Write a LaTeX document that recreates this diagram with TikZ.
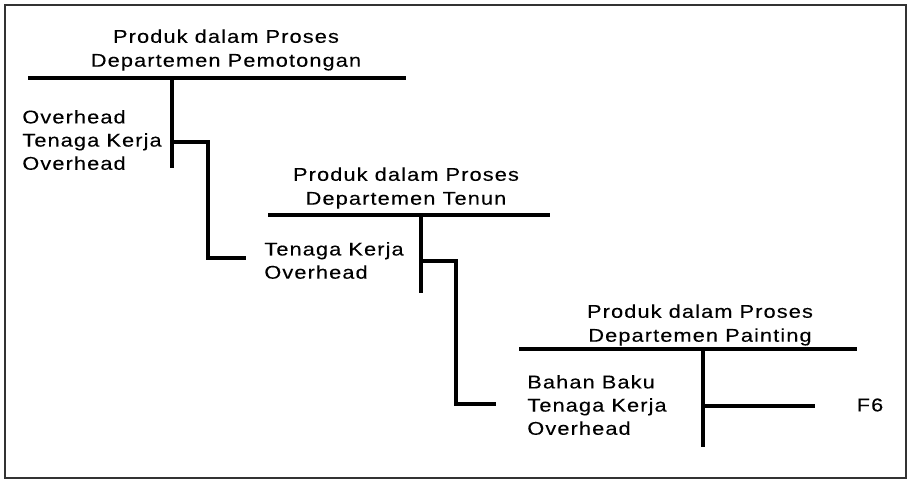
\documentclass[tikz,border=0pt]{standalone}
\usepackage{fontspec}
\setmainfont{Liberation Sans}[FakeStretch=1.18, LetterSpace=6, FakeBold=0.2]
\usetikzlibrary{positioning}

\begin{document}
\begin{tikzpicture}[
    x=0.02cm, y=-0.02cm,
    tline/.style={line width=2.6pt},
    frame/.style={draw=black!80, line width=1.2pt},
    title/.style={align=center, inner sep=0pt, font=\fontsize{10.5}{13.6}\selectfont},
    items/.style={align=left, inner sep=0pt, anchor=west, font=\fontsize{10.5}{13.2}\selectfont},
    every node/.style={inner sep=0pt}
]

% Frame
\useasboundingbox (0,0) rectangle (910,482);
\draw[frame] (5,5) rectangle (906,478);

% Departemen Pemotongan
\coordinate (a1l) at (28,78);
\coordinate (a1r) at (406,78);
\coordinate (a1t) at (172,78);
\coordinate (a1b) at (172,168);
\node[title] (t1) at (226,50) {Produk dalam Proses\\Departemen Pemotongan};
\node[items] (d1) at (22,140) {Overhead\\Tenaga Kerja\\Overhead};
\draw[tline] (a1l) -- (a1r);
\draw[tline] (a1t) -- (a1b);

% Departemen Tenun
\coordinate (a2l) at (268,215);
\coordinate (a2r) at (550,215);
\coordinate (a2t) at (421,215);
\coordinate (a2b) at (421,293);
\node[title] (t2) at (406,188) {Produk dalam Proses\\Departemen Tenun};
\node[items] (d2) at (264,260.5) {Tenaga Kerja\\Overhead};
\draw[tline] (a2l) -- (a2r);
\draw[tline] (a2t) -- (a2b);

% Departemen Painting
\coordinate (a3l) at (519,349);
\coordinate (a3r) at (857,349);
\coordinate (a3t) at (703,349);
\coordinate (a3b) at (703,447);
\node[title] (t3) at (700,325) {Produk dalam Proses\\Departemen Painting};
\node[items] (d3) at (527,405) {Bahan Baku\\Tenaga Kerja\\Overhead};
\draw[tline] (a3l) -- (a3r);
\draw[tline] (a3t) -- (a3b);

% Transfers
\coordinate (c1s) at (172,142);
\coordinate (c1e) at (246,258);
\draw[tline] (c1s) -- ++(36,0) |- (c1e);

\coordinate (c2s) at (421,261);
\coordinate (c2e) at (496,404);
\draw[tline] (c2s) -- ++(35,0) |- (c2e);

\coordinate (c3s) at (703,406);
\coordinate (c3e) at (815,406);
\node[font=\fontsize{10.5}{12}\selectfont] (f6) at (870,405) {F6};
\draw[tline] (c3s) -- (c3e);

\end{tikzpicture}
\end{document}
